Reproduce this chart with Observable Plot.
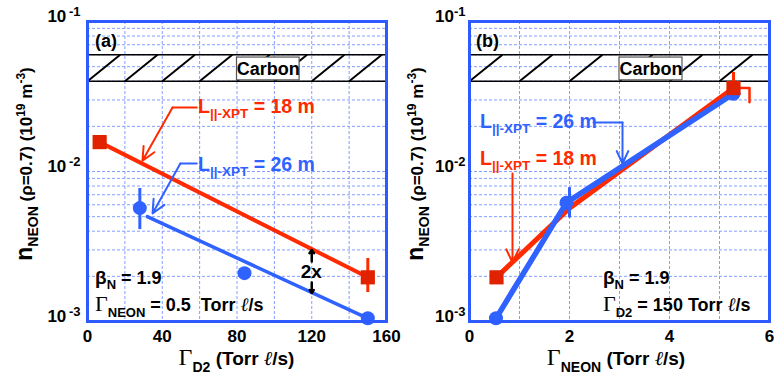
<!DOCTYPE html>
<html><head><meta charset="utf-8">
<script src="https://cdn.jsdelivr.net/npm/d3@7"></script>
<script src="https://cdn.jsdelivr.net/npm/@observablehq/plot@0.6"></script>
<style>
body{margin:0;background:#fff;}
#chart{position:relative;width:774px;height:378px;background:#fff;overflow:hidden;}
#chart svg{position:absolute;top:0;overflow:visible;background:transparent;}
</style></head><body><div id="chart"></div>
<script>
// ---------------- data ----------------
// Panel (a): n_NEON vs Gamma_D2 (Gamma_NEON = 0.5 Torr l/s)
const gD2_L18 = [6.5, 150];
const nNe_L18a = [0.0157, 0.00197];
const gD2_L26 = [28, 84, 150];
const nNe_L26a = [0.0057, 0.0021, 0.00105];
const errA18_x = [150], errA18_lo = [0.00156], errA18_hi = [0.00263];
const errA26_x = [28], errA26_lo = [0.0041], errA26_hi = [0.0077];
const fitA18_x = [6.5, 150], fitA18_y = [0.0157, 0.00197];
const fitA26_x = [32, 150], fitA26_y = [0.0050, 0.00105];

// Panel (b): n_NEON vs Gamma_NEON (Gamma_D2 = 150 Torr l/s)
const gNe_L18 = [0.54, 5.28];
const nNe_L18b = [0.00197, 0.036];
const fitB18_x = [0.54, 2.0, 5.28], fitB18_y = [0.00197, 0.0057, 0.036];
const gNe_L26 = [0.53, 1.94, 5.28];
const nNe_L26b = [0.00105, 0.0062, 0.033];
const errB26_x = [2.0], errB26_lo = [0.0049], errB26_hi = [0.0078];
const errB18_x = [5.28], errB18_lo = [0.036], errB18_hi = [0.0457];
const errB18h_x = [5.28, 5.6, 5.6], errB18h_y = [0.036, 0.036, 0.029];

// ticks / grid
const xTicksA = [0, 40, 80, 120, 160];
const xGridA = [20, 40, 60, 80, 100, 120, 140];
const xTicksB = [0, 2, 4, 6];
const xGridB = [1, 2, 3, 4, 5];
const yTicks = [1e-3, 1e-2, 1e-1];
const yGrid = [2e-3,3e-3,4e-3,5e-3,6e-3,7e-3,8e-3,9e-3,1e-2,2e-2,3e-2,4e-2,5e-2,6e-2,7e-2,8e-2,9e-2];

// carbon band
const carbonLo = 0.04, carbonHi = 0.06;
const hatchA = [0, 20, 40, 60, 80, 100, 120, 140], hatchWA = 17.5;
const hatchB = [0, 1, 2, 3, 4, 5], hatchWB = 0.66;
const boxA = [80, 113.5], boxB = [3.0, 4.26], boxY = [0.0405, 0.0575], carbonTextY = 0.0482;

// annotation leaders (data space)
const leadA18_x = [58.5, 45.5, 29.4], leadA18_y = [0.0267, 0.0267, 0.0118];
const leadA26_x = [58.5, 49.7, 34.8], leadA26_y = [0.0113, 0.0113, 0.00525];
const twoX_x = 120, twoXup_y = [0.00251, 0.0030], twoXdn_y = [0.00182, 0.00155], twoX_textY = 0.00193;
const leadB26_x = [2.48, 3.06, 3.06], leadB26_y = [0.0212, 0.0212, 0.0113];
const leadB18_x = [0.86, 0.86], leadB18_y = [0.0097, 0.00247];

// ---------------- style ----------------
const SANS = "'Liberation Sans', Arial, Helvetica, sans-serif";
const SERIF = "'Liberation Serif', 'Times New Roman', serif";
const RED = "#ff2a00", RED_MK = "#e02200", BLUE = "#2f62ff", FRAME = "#2d5bff", GRID = "#859fff";

const L18 = [{t:"L", s:19.5}, {t:"||-XPT", s:13.5, off:5}, {t:"\u00a0= 18 m", s:19.5}];
const L26 = [{t:"L", s:19.5}, {t:"||-XPT", s:13.5, off:5}, {t:"\u00a0= 26 m", s:19.5}];
const BETA = [{t:"\u03b2", s:19}, {t:"N", s:13, off:5}, {t:"\u00a0= 1.9", s:18}];
const YLAB = [{t:"n", s:23}, {t:"NEON", s:14, off:6}, {t:"\u00a0(\u03c1=0.7) (10", s:17}, {t:"19", s:12, off:-7}, {t:"\u00a0m", s:17}, {t:"-3", s:12, off:-7}, {t:")", s:17}];

function leader(xs, ys, color, w) {
  const n = xs.length;
  const out = [];
  if (n > 2) out.push(Plot.line(xs.slice(0, n-1), {x: xs.slice(0, n-1), y: ys.slice(0, n-1), stroke: color, strokeWidth: w}));
  out.push(Plot.arrow([0], {x1: () => xs[n-2], y1: () => ys[n-2], x2: () => xs[n-1], y2: () => ys[n-1], stroke: color, strokeWidth: w, headLength: 11, headAngle: 50}));
  return out;
}

function common(o) {
  return [
    Plot.ruleX(o.xGrid, {x: d => d, stroke: GRID, strokeWidth: 1, strokeDasharray: "3,2"}),
    Plot.ruleY(yGrid, {y: d => d, stroke: GRID, strokeWidth: 1, strokeDasharray: "3,2"}),
    Plot.ruleY([carbonLo, carbonHi], {y: d => d, stroke: "black", strokeWidth: 1.6}),
    Plot.link(o.hatch, {x1: d => d, x2: d => d + o.hatchW, y1: () => carbonLo, y2: () => carbonHi, stroke: "black", strokeWidth: 2}),
    Plot.rect([0], {x1: () => o.box[0], x2: () => o.box[1], y1: () => boxY[0], y2: () => boxY[1], fill: "white", stroke: "#555", strokeWidth: 1.2}),
    Plot.text(["Carbon"], {x: () => (o.box[0] + o.box[1]) / 2, y: () => carbonTextY, text: d => d, fontSize: 18, fontWeight: "bold", fill: "black"})
  ];
}

function scaleFn(p, name) {
  const s = p.scale(name);
  if (s && typeof s.apply === "function") return v => s.apply(v);
  return (s.type === "log" ? d3.scaleLog() : d3.scaleLinear()).domain(s.domain).range(s.range);
}

function rich(svg, x, y, parts, opts = {}) {
  const t = d3.select(svg).append("text").attr("x", x).attr("y", y)
    .attr("text-anchor", opts.anchor || "start")
    .attr("font-family", SANS).attr("font-weight", "bold")
    .attr("fill", opts.fill || "black").style("white-space", "pre");
  if (opts.rotate) t.attr("transform", `rotate(${opts.rotate},${x},${y})`);
  let cur = 0;
  for (const p of parts) {
    const off = p.off || 0;
    const ts = t.append("tspan").attr("font-size", p.s).attr("dy", off - cur).text(p.t);
    if (p.serif) ts.attr("font-family", SERIF).attr("font-weight", "normal");
    if (p.it) ts.attr("font-style", "italic");
    cur = off;
  }
  return t;
}

function fixTicks(svg, gap) {
  d3.select(svg).selectAll('[aria-label*="axis"] text').attr("font-weight", "bold").attr("font-size", 17).attr("font-family", SANS);
  d3.select(svg).selectAll("text").each(function () {
    const s = this.textContent;
    if (s.includes("|")) {
      const [a, b] = s.split("|");
      const t = d3.select(this);
      t.text(null);
      t.attr("font-weight", "bold").attr("font-family", SANS);
      t.append("tspan").attr("font-size", 17).attr("dy", -5).text(a);
      t.append("tspan").attr("font-size", 13).attr("dy", -6).text((gap ? "\u2009" : "") + b);
    }
  });
}

function base(o) {
  return {
    width: o.width, height: 378,
    marginLeft: o.ml, marginRight: o.mr, marginTop: 21, marginBottom: 57,
    style: {fontFamily: SANS, fontSize: "17px", fontWeight: "bold", color: "black", background: "transparent", overflow: "visible"},
    x: {domain: o.xDomain, ticks: o.xTicks, tickSize: 0, tickPadding: 8, label: null, tickFormat: d => String(d)},
    y: {type: "log", domain: [1e-3, 1e-1], ticks: yTicks, tickSize: 0, tickPadding: o.yPad, label: null,
        tickFormat: d => "10|" + Math.round(Math.log10(d))}
  };
}

const chart = document.getElementById("chart");

// ---------------- panel (a) ----------------
const pa = Plot.plot({
  ...base({width: 400, ml: 87, mr: 14, xDomain: [0, 160], xTicks: xTicksA, yPad: 7}),
  marks: [
    ...common({xGrid: xGridA, hatch: hatchA, hatchW: hatchWA, box: boxA}),
    Plot.line(fitA18_x, {x: fitA18_x, y: fitA18_y, stroke: RED, strokeWidth: 4}),
    Plot.line(fitA26_x, {x: fitA26_x, y: fitA26_y, stroke: BLUE, strokeWidth: 3.5}),
    Plot.ruleX(errA18_x, {x: errA18_x, y1: errA18_lo, y2: errA18_hi, stroke: RED, strokeWidth: 3}),
    Plot.ruleX(errA26_x, {x: errA26_x, y1: errA26_lo, y2: errA26_hi, stroke: BLUE, strokeWidth: 3}),
    Plot.dot(gD2_L18, {x: gD2_L18, y: nNe_L18a, symbol: "square", r: 8, fill: RED_MK, stroke: "none"}),
    Plot.dot(gD2_L26, {x: gD2_L26, y: nNe_L26a, symbol: "circle", r: 7, fill: BLUE, stroke: "none"}),
    ...leader(leadA18_x, leadA18_y, RED, 2),
    ...leader(leadA26_x, leadA26_y, BLUE, 2),
    Plot.arrow([0], {x1: () => twoX_x, x2: () => twoX_x, y1: () => twoXup_y[0], y2: () => twoXup_y[1], stroke: "black", strokeWidth: 2.5, headLength: 8, headAngle: 70}),
    Plot.arrow([0], {x1: () => twoX_x, x2: () => twoX_x, y1: () => twoXdn_y[0], y2: () => twoXdn_y[1], stroke: "black", strokeWidth: 2.5, headLength: 8, headAngle: 70}),
    Plot.frame({stroke: FRAME, strokeWidth: 3})
  ]
});
pa.style.left = "0px";
chart.appendChild(pa);
fixTicks(pa, true);
{
  const X = scaleFn(pa, "x"), Y = scaleFn(pa, "y");
  rich(pa, X(4.3), Y(0.0671), [{t:"(a)", s:18}]);
  rich(pa, X(59.4), Y(0.0244), L18, {fill: RED});
  rich(pa, X(59.4), Y(0.0100), L26, {fill: BLUE});
  rich(pa, X(twoX_x), Y(twoX_textY), [{t:"2x", s:19}], {anchor: "middle"});
  rich(pa, X(4.3), Y(0.00176), BETA);
  rich(pa, X(4.3), Y(0.001166), [{t:"\u0393", s:22, serif:true}, {t:"NEON", s:13, off:6}, {t:"\u00a0= 0.5\u00a0\u00a0Torr\u00a0", s:18}, {t:"\u2113", s:19, serif:true, it:true}, {t:"/s", s:18}]);
  rich(pa, 32, 164, YLAB, {anchor: "middle", rotate: -90});
  rich(pa, (X(0) + X(160)) / 2, 365, [{t:"\u0393", s:24, serif:true}, {t:"D2", s:14, off:7}, {t:"\u00a0(Torr\u00a0", s:19}, {t:"\u2113", s:20, serif:true, it:true}, {t:"/s)", s:19}], {anchor: "middle"});
}

// ---------------- panel (b) ----------------
const pb = Plot.plot({
  ...base({width: 374, ml: 69, mr: 5, xDomain: [0, 6], xTicks: xTicksB, yPad: 4}),
  marks: [
    ...common({xGrid: xGridB, hatch: hatchB, hatchW: hatchWB, box: boxB}),
    Plot.line(fitB18_x, {x: fitB18_x, y: fitB18_y, stroke: RED, strokeWidth: 5}),
    Plot.line(gNe_L26, {x: gNe_L26, y: nNe_L26b, stroke: BLUE, strokeWidth: 5.5}),
    Plot.ruleX(errB26_x, {x: errB26_x, y1: errB26_lo, y2: errB26_hi, stroke: BLUE, strokeWidth: 3}),
    Plot.ruleX(errB18_x, {x: errB18_x, y1: errB18_lo, y2: errB18_hi, stroke: RED, strokeWidth: 3}),
    Plot.line(errB18h_x, {x: errB18h_x, y: errB18h_y, stroke: RED, strokeWidth: 2.5}),
    Plot.dot(gNe_L26, {x: gNe_L26, y: nNe_L26b, symbol: "circle", r: 7, fill: BLUE, stroke: "none"}),
    Plot.dot(gNe_L18, {x: gNe_L18, y: nNe_L18b, symbol: "square", r: 8, fill: RED_MK, stroke: "none"}),
    ...leader(leadB26_x, leadB26_y, BLUE, 2),
    ...leader(leadB18_x, leadB18_y, RED, 2),
    Plot.frame({stroke: FRAME, strokeWidth: 3})
  ]
});
pb.style.left = "400px";
chart.appendChild(pb);
fixTicks(pb, false);
{
  const X = scaleFn(pb, "x"), Y = scaleFn(pb, "y");
  rich(pb, X(0.14), Y(0.0671), [{t:"(b)", s:18}]);
  rich(pb, X(0.22), Y(0.01936), L26, {fill: BLUE});
  rich(pb, X(0.22), Y(0.01096), L18, {fill: RED});
  rich(pb, X(2.68), Y(0.00176), BETA);
  rich(pb, X(2.68), Y(0.001166), [{t:"\u0393", s:22, serif:true}, {t:"D2", s:13, off:6}, {t:"\u00a0= 150 Torr\u00a0", s:18}, {t:"\u2113", s:19, serif:true, it:true}, {t:"/s", s:18}]);
  rich(pb, 23, 164, YLAB, {anchor: "middle", rotate: -90});
  rich(pb, (X(0) + X(6)) / 2 - 3, 365, [{t:"\u0393", s:24, serif:true}, {t:"NEON", s:14, off:7}, {t:"\u00a0(Torr\u00a0", s:19}, {t:"\u2113", s:20, serif:true, it:true}, {t:"/s)", s:19}], {anchor: "middle"});
}
</script></body></html>
